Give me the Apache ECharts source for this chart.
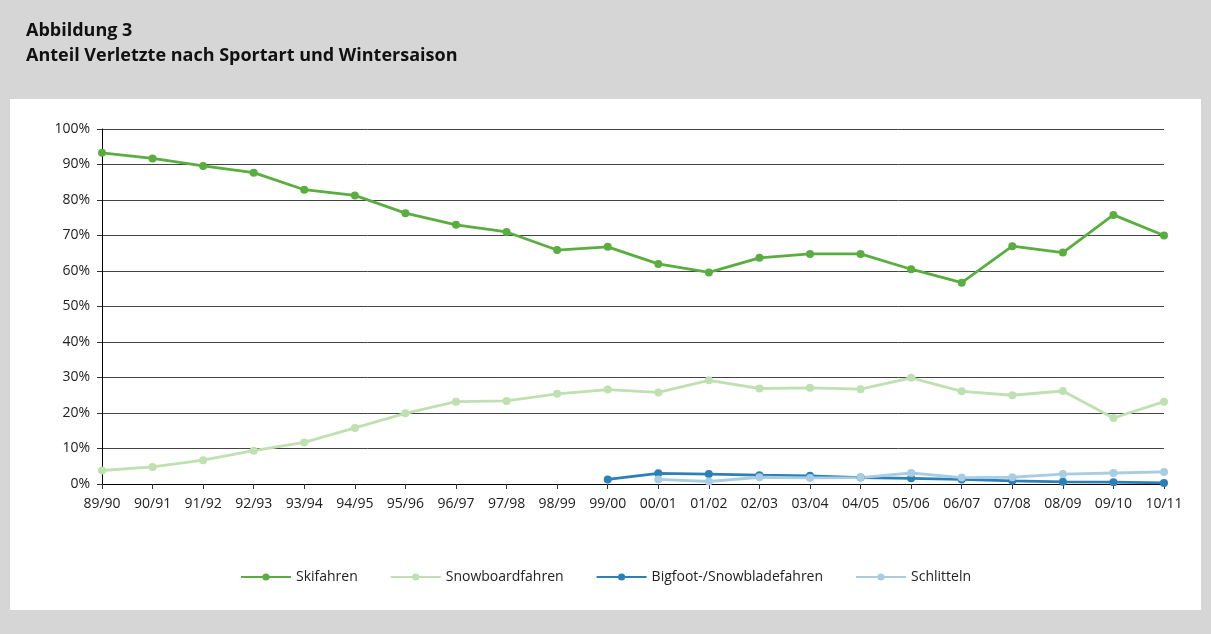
<!DOCTYPE html>
<html>
<head>
<meta charset="utf-8">
<script src="https://cdn.jsdelivr.net/npm/echarts@6/dist/echarts.min.js"></script>
<style>
html,body{margin:0;padding:0;background:#d6d6d6;}
#chart{width:1211px;height:634px;}
</style>
</head>
<body>
<div id="chart"></div>
<script>
// Wintersaisons
var seasons = ["89/90","90/91","91/92","92/93","93/94","94/95","95/96","96/97","97/98","98/99","99/00",
  "00/01","01/02","02/03","03/04","04/05","05/06","06/07","07/08","08/09","09/10","10/11"];
// Anteile in %
var skifahren = [93.3,91.7,89.6,87.7,82.9,81.3,76.3,73.0,71.0,65.9,66.8,62.0,59.6,63.7,64.8,64.8,60.5,56.7,67.0,65.2,75.8,70.0];
var snowboard = [3.8,4.8,6.7,9.4,11.7,15.8,19.9,23.2,23.4,25.4,26.6,25.8,29.2,26.9,27.1,26.7,29.9,26.1,25.0,26.2,18.6,23.2];
var bigfoot = [null,null,null,null,null,null,null,null,null,null,1.3,3.0,2.8,2.5,2.3,1.8,1.6,1.3,0.9,0.6,0.5,0.3];
var schlitteln = [null,null,null,null,null,null,null,null,null,null,null,1.3,0.7,1.9,1.7,1.8,3.1,1.8,1.9,2.8,3.1,3.4];

var colors = ['#5aae40','#bfe0b0','#2b80b8','#a8cde3'];
var font = '"Open Sans", "Noto Sans", sans-serif';

function mkSeries(name, data, color){
  return {
    name: name,
    type: 'line',
    data: data,
    symbol: 'circle',
    symbolSize: 8,
    connectNulls: false,
    lineStyle: {color: color, width: 2.8},
    itemStyle: {color: color},
    emphasis: {disabled: true}
  };
}

var myChart = echarts.init(document.getElementById('chart'));
var option = {
  backgroundColor: '#d6d6d6',
  animation: false,
  graphic: [
    {type: 'rect', z: -10, shape: {x: 10, y: 99, width: 1191, height: 511}, style: {fill: '#ffffff'}}
  ],
  title: {
    text: 'Abbildung 3\nAnteil Verletzte nach Sportart und Wintersaison',
    left: 21, top: 13,
    textStyle: {fontFamily: font, fontWeight: 'bold', fontSize: 18, color: '#111', lineHeight: 25}
  },
  color: colors,
  legend: {
    bottom: 45,
    left: 'center',
    itemWidth: 50,
    itemHeight: 9,
    itemGap: 32,
    textStyle: {fontFamily: font, fontSize: 14, color: '#222'},
    data: ['Skifahren','Snowboardfahren','Bigfoot-/Snowbladefahren','Schlitteln']
  },
  grid: {left: 102, right: 47, top: 129, bottom: 150},
  xAxis: {
    type: 'category',
    data: seasons,
    boundaryGap: false,
    axisLine: {lineStyle: {color: '#000', width: 1}},
    axisTick: {show: true, alignWithLabel: true, length: 5, lineStyle: {color: '#333'}},
    axisLabel: {fontFamily: font, fontSize: 14, color: '#222', margin: 13, interval: 0}
  },
  yAxis: {
    type: 'value',
    min: 0, max: 100, interval: 10,
    axisLine: {show: true, lineStyle: {color: '#000', width: 1}},
    axisTick: {show: true, length: 5, lineStyle: {color: '#333'}},
    axisLabel: {fontFamily: font, fontSize: 14, color: '#222', margin: 12, formatter: '{value}%'},
    splitLine: {lineStyle: {color: '#444', width: 1}}
  },
  series: [
    mkSeries('Skifahren', skifahren, colors[0]),
    mkSeries('Snowboardfahren', snowboard, colors[1]),
    mkSeries('Bigfoot-/Snowbladefahren', bigfoot, colors[2]),
    mkSeries('Schlitteln', schlitteln, colors[3])
  ]
};
myChart.setOption(option);
</script>
</body>
</html>
